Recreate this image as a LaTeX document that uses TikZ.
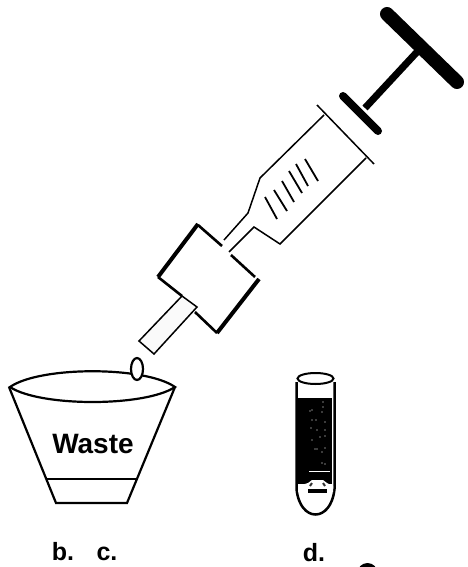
\documentclass[tikz,border=0pt]{standalone}
\usepackage{fontspec}
\setmainfont{Liberation Sans}
\tikzset{
 thinl/.style={line width=1.5pt,black},
 medl/.style={line width=2.2pt,black},
 thickl/.style={line width=4pt,black},
 lab/.style={font=\bfseries\fontsize{25}{25}\selectfont,inner sep=0pt,anchor=base}
}
\begin{document}
\begin{tikzpicture}[x=1pt,y=-1pt]
\useasboundingbox (0,0) rectangle (467,567);
% plunger
\draw[line width=14pt,line cap=round] (387,14) -- (457,82);
\draw[line width=7pt] (365,108) -- (417,52);
\draw[line width=8pt,line cap=round] (343,96) -- (378,131);
% barrel
\draw[thinl] (224,240) -- (248,213) -- (260,178) -- (324,115);
\draw[thinl] (229,252) -- (254,227) -- (280,244) -- (366,158);
\draw[thinl] (317,105) -- (374,164);
\foreach \a/\b/\c/\d in {265/197/277/219,274/190/287/211,282/181/294/202,289/171/302/193,296/164/308/186,305/159/318/181}
 \draw[line width=1.8pt] (\a,\b) -- (\c,\d);
% valve square
\draw[medl,line width=2.6pt] (222,246) -- (198,225);
\draw[thickl] (198,224) -- (158,277);
\draw[medl,line width=2.6pt] (158,277) -- (182,296);
\draw[medl,line width=2.6pt] (231,255) -- (255,277);
\draw[thickl] (259,279) -- (217,333);
\draw[medl,line width=2.6pt] (217,333) -- (195,312);
% tube
\draw[thinl,fill=white!98!black] (182,296) -- (197,307) -- (154,354) -- (139,341) -- cycle;
% waste
\draw[medl] (10,387) .. controls (40,366) and (145,366) .. (175,387) .. controls (145,407) and (40,407) .. (10,387) -- cycle;
\draw[medl] (9,387) -- (56,503) -- (127,503) -- (175,387);
\draw[medl] (47,479) -- (137,479);
\draw[medl,fill=white] (137,369) ellipse (6 and 11);
\node[lab,font=\bfseries\fontsize{28}{28}\selectfont] (w) at (93,453) {Waste};
% tube d
\fill (298,398) rectangle (332,484);
\draw[white,line width=1pt] (309,471) -- (330,471);
\draw[line width=2.5pt] (296.5,382) -- (296.5,489) .. controls (300,523) and (331,523) .. (334.5,489) -- (334.5,382);
\draw[line width=2pt,fill=white] (315.5,378.5) ellipse (18 and 5.5);
\fill[white] (298,486) -- (308,483) -- (312,480) -- (323,480) -- (327,483) -- (333,486) -- (333,492) -- (298,492) -- cycle;
\draw[line width=2pt,black!80] (310,486) -- (312,483) (325,486) -- (323,483);
\draw[line width=3.5pt] (308,491) -- (327,491);
\foreach \p/\q in {323/402,323/407,322/412,310/411,312/410,312/420,316/420,325/422,311/428,317/430,325/430,325/436,312/440,320/437,322/452,325/448,315/449,317/449,322/463,325/464}
 \fill[white] (\p,\q) circle (0.6);
% labels
\node[lab] (b) at (63,560) {b.};
\node[lab] (c) at (107,560) {c.};
\node[lab] (d) at (314,561) {d.};
\fill (367.5,573) circle (10);
\end{tikzpicture}
\end{document}
